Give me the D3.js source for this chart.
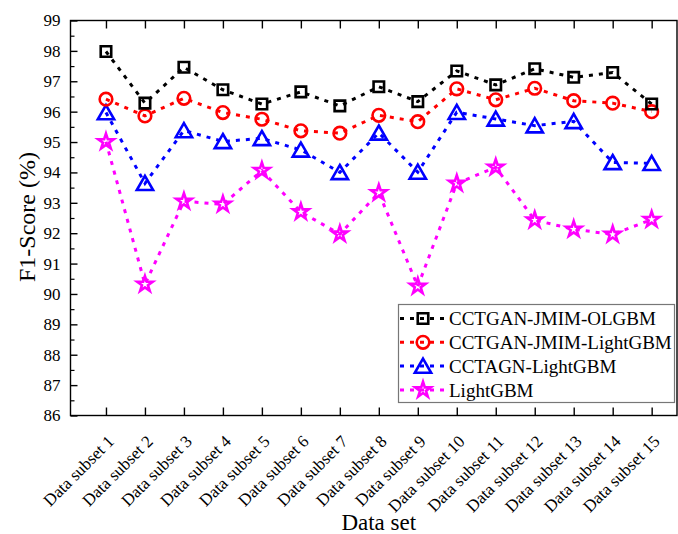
<!DOCTYPE html>
<html>
<head>
<meta charset="utf-8">
<script src="https://cdn.jsdelivr.net/npm/d3@7"></script>
<style>
  body { margin: 0; background: #fff; }
  svg text { font-family: "Liberation Serif", "Times New Roman", serif; fill: #000; }
</style>
</head>
<body>
<div id="chart"></div>
<script>
// categories and series
var categories = ["Data subset 1", "Data subset 2", "Data subset 3", "Data subset 4", "Data subset 5",
  "Data subset 6", "Data subset 7", "Data subset 8", "Data subset 9", "Data subset 10",
  "Data subset 11", "Data subset 12", "Data subset 13", "Data subset 14", "Data subset 15"];
var seriesNames = ["CCTGAN-JMIM-OLGBM", "CCTGAN-JMIM-LightGBM", "CCTAGN-LightGBM", "LightGBM"];
var olgbm = [97.98, 96.28, 97.46, 96.72, 96.25, 96.65, 96.19, 96.82, 96.33, 97.34, 96.88, 97.41, 97.13, 97.29, 96.25];
var jmimLgbm = [96.41, 95.86, 96.44, 95.97, 95.75, 95.37, 95.29, 95.88, 95.67, 96.75, 96.39, 96.77, 96.36, 96.28, 96.0];
var cctagnLgbm = [95.97, 93.64, 95.38, 95.02, 95.12, 94.74, 94.0, 95.3, 94.01, 95.98, 95.76, 95.54, 95.68, 94.33, 94.3];
var lgbm = [95.01, 90.32, 93.05, 92.95, 94.06, 92.7, 91.97, 93.33, 90.25, 93.64, 94.17, 92.43, 92.13, 91.96, 92.45];
var yTicks = [86, 87, 88, 89, 90, 91, 92, 93, 94, 95, 96, 97, 98, 99];

var W = 678, H = 534;
var plotL = 70.5, plotR = 677, plotT = 20.5, plotB = 415.5;

var svg = d3.select("#chart")
  .append("svg")
  .attr("width", W)
  .attr("height", H)
  .attr("font-family", "'Liberation Serif', 'Times New Roman', serif");

var x = d3.scaleLinear()
  .domain([0.09, 15.65])
  .range([plotL, plotR]);

var y = d3.scaleLinear()
  .domain([86, 99])
  .range([plotB, plotT]);

var idx = d3.range(1, categories.length + 1);

// frame
svg.append("rect")
  .attr("x", plotL).attr("y", plotT)
  .attr("width", plotR - plotL).attr("height", plotB - plotT)
  .attr("fill", "none")
  .attr("stroke", "#000")
  .attr("stroke-width", 1.4);

// bottom axis, ticks inward
svg.append("g")
  .attr("transform", "translate(0," + plotB + ")")
  .call(d3.axisTop(x).tickValues(idx).tickSize(8).tickFormat(""))
  .call(function (g) { g.select(".domain").remove(); })
  .selectAll("line").attr("stroke-width", 1.4);

// top axis, ticks inward
svg.append("g")
  .attr("transform", "translate(0," + plotT + ")")
  .call(d3.axisBottom(x).tickValues(idx).tickSize(8).tickFormat(""))
  .call(function (g) { g.select(".domain").remove(); })
  .selectAll("line").attr("stroke-width", 1.4);

// x labels rotated
svg.append("g")
  .selectAll("text")
  .data(categories)
  .enter()
  .append("text")
  .attr("transform", function (d, i) { return "translate(" + (x(i + 1) + 9) + "," + (plotB + 27) + ") rotate(-45)"; })
  .attr("text-anchor", "end")
  .style("font-size", "17px")
  .text(function (d) { return d; });

// left axis, ticks inward + minor ticks
var minor = d3.range(86.5, 99, 1);
svg.append("g")
  .attr("transform", "translate(" + plotL + ",0)")
  .call(d3.axisRight(y).tickValues(yTicks).tickSize(7).tickFormat(""))
  .call(function (g) { g.select(".domain").remove(); })
  .selectAll("line").attr("stroke-width", 1.4);
svg.append("g")
  .attr("transform", "translate(" + plotL + ",0)")
  .call(d3.axisRight(y).tickValues(minor).tickSize(4).tickFormat(""))
  .call(function (g) { g.select(".domain").remove(); })
  .selectAll("line").attr("stroke-width", 1.2);

svg.append("g")
  .selectAll("text")
  .data(yTicks)
  .enter()
  .append("text")
  .attr("x", plotL - 10)
  .attr("y", function (d) { return y(d); })
  .attr("dy", "0.35em")
  .attr("text-anchor", "end")
  .style("font-size", "17px")
  .text(function (d) { return d; });

// axis titles
svg.append("text")
  .attr("x", (plotL + plotR) / 2 + 5)
  .attr("y", 530)
  .attr("text-anchor", "middle")
  .style("font-size", "23px")
  .text("Data set");

svg.append("text")
  .attr("transform", "translate(35," + 217 + ") rotate(-90)")
  .attr("text-anchor", "middle")
  .style("font-size", "24px")
  .text("F1-Score (%)");

// series
var series = [
  { name: seriesNames[0], values: olgbm, color: "#000000", symbol: d3.symbolSquare, size: 110 },
  { name: seriesNames[1], values: jmimLgbm, color: "#ff0000", symbol: d3.symbolCircle, size: 125 },
  { name: seriesNames[2], values: cctagnLgbm, color: "#0000ff", symbol: d3.symbolTriangle, size: 115 },
  { name: seriesNames[3], values: lgbm, color: "#ff00ff", symbol: d3.symbolStar, size: 75 }
];

var line = d3.line()
  .x(function (d, i) { return x(i + 1); })
  .y(function (d) { return y(d); });

var drawOrder = series.slice().reverse();

svg.append("g")
  .selectAll("path")
  .data(drawOrder)
  .enter()
  .append("path")
  .attr("d", function (d) { return line(d.values); })
  .attr("fill", "none")
  .attr("stroke", function (d) { return d.color; })
  .attr("stroke-width", 3)
  .attr("stroke-dasharray", "4,6");

drawOrder.forEach(function (s) {
  svg.append("g")
    .selectAll("path")
    .data(s.values)
    .enter()
    .append("path")
    .attr("transform", function (d, i) {
      var dy = s.symbol === d3.symbolTriangle ? 2 : 0;
      return "translate(" + x(i + 1) + "," + (y(d) + dy) + ")";
    })
    .attr("d", d3.symbol().type(s.symbol).size(s.size))
    .attr("fill", "none")
    .attr("stroke", s.color)
    .attr("stroke-width", 2.6);
});

// legend
var lg = svg.append("g");
lg.append("rect")
  .attr("x", 398.5).attr("y", 304.5)
  .attr("width", 276).attr("height", 98)
  .attr("fill", "#fff")
  .attr("stroke", "#777")
  .attr("stroke-width", 1.2);

var rowY = function (i) { return 318.5 + i * 23.8; };

lg.selectAll("line")
  .data(series)
  .enter()
  .append("line")
  .attr("x1", 400).attr("x2", 446)
  .attr("y1", function (d, i) { return rowY(i); })
  .attr("y2", function (d, i) { return rowY(i); })
  .attr("stroke", function (d) { return d.color; })
  .attr("stroke-width", 3)
  .attr("stroke-dasharray", "4,6");

lg.selectAll("path")
  .data(series)
  .enter()
  .append("path")
  .attr("transform", function (d, i) { return "translate(423," + (rowY(i) + (d.symbol === d3.symbolTriangle ? 2 : 0)) + ")"; })
  .attr("d", function (d) { return d3.symbol().type(d.symbol).size(d.size)(); })
  .attr("fill", "none")
  .attr("stroke", function (d) { return d.color; })
  .attr("stroke-width", 2.6);

lg.selectAll("text")
  .data(series)
  .enter()
  .append("text")
  .attr("x", 449)
  .attr("y", function (d, i) { return rowY(i); })
  .attr("dy", "0.35em")
  .style("font-size", "19px")
  .text(function (d) { return d.name; });
</script>
</body>
</html>
